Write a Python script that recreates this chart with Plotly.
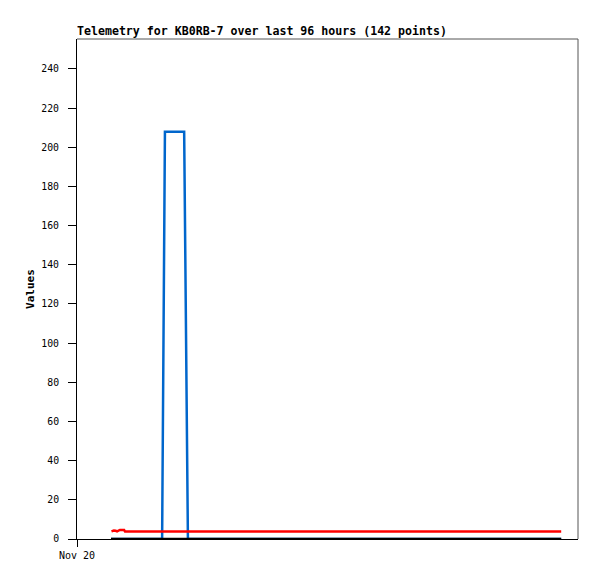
import plotly.graph_objects as go
from datetime import datetime, timedelta

# ---- data (hours after first sample) ----
start_time = datetime(2023, 11, 20, 7, 15)
axis_start = datetime(2023, 11, 20, 0, 0)
axis_end = datetime(2023, 11, 24, 10, 50)

blue_hours = [0, 10.9, 11.5, 15.6, 16.4, 96]
blue_values = [0, 0, 208, 208, 0, 0]

red_hours = [0.1, 0.6, 1.0, 1.3, 1.9, 2.8, 3.0, 96]
red_values = [3.9, 4.3, 4.2, 3.9, 4.6, 4.6, 3.8, 3.8]

black_hours = [0, 96]
black_values = [0, 0]

y_ticks = list(range(0, 241, 20))
x_tick_label = "Nov 20"


def to_times(hours):
    return [start_time + timedelta(hours=h) for h in hours]


fig = go.Figure()
fig.add_trace(go.Scatter(x=to_times(blue_hours), y=blue_values, mode="lines",
                         line=dict(color="#0066cc", width=2.5), showlegend=False))
fig.add_trace(go.Scatter(x=to_times(red_hours), y=red_values, mode="lines",
                         line=dict(color="#ff0000", width=2.5), showlegend=False))
fig.add_trace(go.Scatter(x=to_times(black_hours), y=black_values, mode="lines",
                         line=dict(color="#000000", width=2.5), showlegend=False))

mono = "DejaVu Sans Mono"
W, H = 589, 571

fig.update_layout(
    width=W, height=H,
    margin=dict(l=69, r=19, t=31, b=40),
    paper_bgcolor="white", plot_bgcolor="white",
    title=dict(text="<b>Telemetry for KB0RB-7 over last 96 hours (142 points)</b>",
               x=69 / W, xanchor="left", y=1 - 23 / H, yanchor="middle",
               font=dict(family=mono, size=11.6, color="black")),
    xaxis=dict(range=[axis_start, axis_end], showgrid=False, zeroline=False,
               showline=True, linecolor="black", linewidth=1,
               tickmode="array", tickvals=[axis_start], ticktext=[x_tick_label],
               ticks="outside", ticklen=7, tickcolor="black",
               tickfont=dict(family=mono, size=10, color="black")),
    yaxis=dict(range=[0, 255.3], showgrid=False, zeroline=False,
               showline=True, linecolor="black", linewidth=1,
               tickmode="array", tickvals=y_ticks,
               ticks="outside", ticklen=8, tickcolor="black",
               ticklabelstandoff=7,
               tickfont=dict(family=mono, size=9.8, color="black"),
               title=dict(text="<b>Values</b>", standoff=4,
                          font=dict(family=mono, size=11, color="black"))),
)

# grey frame on top and right
fig.add_shape(type="line", xref="paper", yref="paper", x0=0, x1=1, y0=1, y1=1,
              line=dict(color="#555555", width=1))
fig.add_shape(type="line", xref="paper", yref="paper", x0=1, x1=1, y0=0, y1=1,
              line=dict(color="#555555", width=1))

fig.write_html("out.html")
